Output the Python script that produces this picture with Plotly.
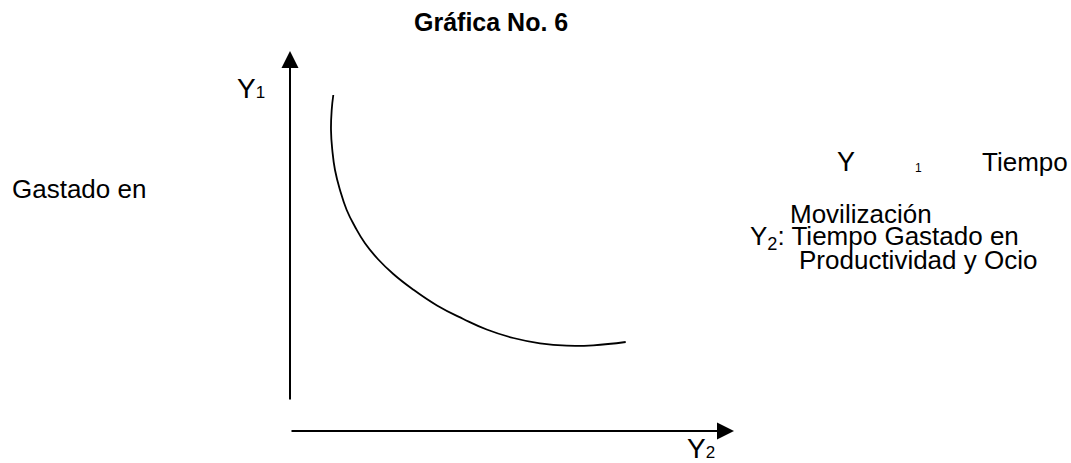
import plotly.graph_objects as go

# Curve Y1 vs Y2 (origin at the axes' corner, units ~ pixels of the drawing)
curve_y2 = [43.3, 41.7, 41, 42.3, 45, 50, 56.7, 65, 75, 88.3, 103.3, 121.7, 147,
            173.3, 196.7, 223.3, 250, 276.7, 303.3, 335.7]
curve_y1 = [336, 321, 301, 281, 261, 241, 221, 204.3, 187.7, 171.5, 157, 142.5, 125.5,
            112, 101.5, 93, 87.7, 85.3, 85.7, 89]

# Axis arrows: [start, tip]
y_axis_x = [0, 0]
y_axis_y = [30, 380]
x_axis_x = [0, 444]
x_axis_y = [0, 0]

FONT = "Liberation Sans, Arial, sans-serif"
TXT = 26

fig = go.Figure()

fig.add_trace(go.Scatter(
    x=curve_y2, y=curve_y1,
    mode="lines",
    line=dict(color="black", width=1.8, shape="spline", smoothing=1.3),
    showlegend=False, hoverinfo="skip",
))

# ── axes with arrowheads ────────────────────────────────────────────────────
for xs, ys in [(y_axis_x, y_axis_y), (x_axis_x, x_axis_y)]:
    fig.add_annotation(
        x=xs[1], y=ys[1], ax=xs[0], ay=ys[0],
        xref="x", yref="y", axref="x", ayref="y",
        showarrow=True, arrowhead=2, arrowsize=1.7, arrowwidth=2,
        standoff=0, arrowcolor="black", text="",
    )

# ── texts ───────────────────────────────────────────────────────────────────
def label(x, y, text, size=TXT, xanchor="left", bold=False):
    fig.add_annotation(
        x=x, y=y, xref="x", yref="y", text=f"<b>{text}</b>" if bold else text,
        showarrow=False, xanchor=xanchor, yanchor="middle",
        font=dict(family=FONT, size=size, color="black"),
    )

label(201, 409.5, "Gráfica No. 6", size=25, xanchor="center", bold=True)
label(-55, 342.5, "Y<span style='font-size:17px'>1</span>", size=28)
label(395, -17, "Y<span style='font-size:17px'>2</span>", size=28)
label(-280, 242, "Gastado en")

label(545, 269, "Y", size=27)
label(623, 263, "1", size=12)
label(690, 269, "Tiempo")
label(498, 217, "Movilización")
label(458, 194, "Y<sub>2</sub>: Tiempo Gastado en")
label(507, 171, "Productividad y Ocio")

fig.update_xaxes(range=[-290, 781], visible=False, fixedrange=True)
fig.update_yaxes(range=[-32, 431], visible=False, fixedrange=True)

fig.update_layout(
    width=1071,
    height=463,
    margin=dict(l=0, r=0, t=0, b=0),
    plot_bgcolor="white",
    paper_bgcolor="white",
    showlegend=False,
)

fig.write_html(
    "out.html",
    config={"displayModeBar": False},
    post_script="document.body.style.margin='0px';",
)
